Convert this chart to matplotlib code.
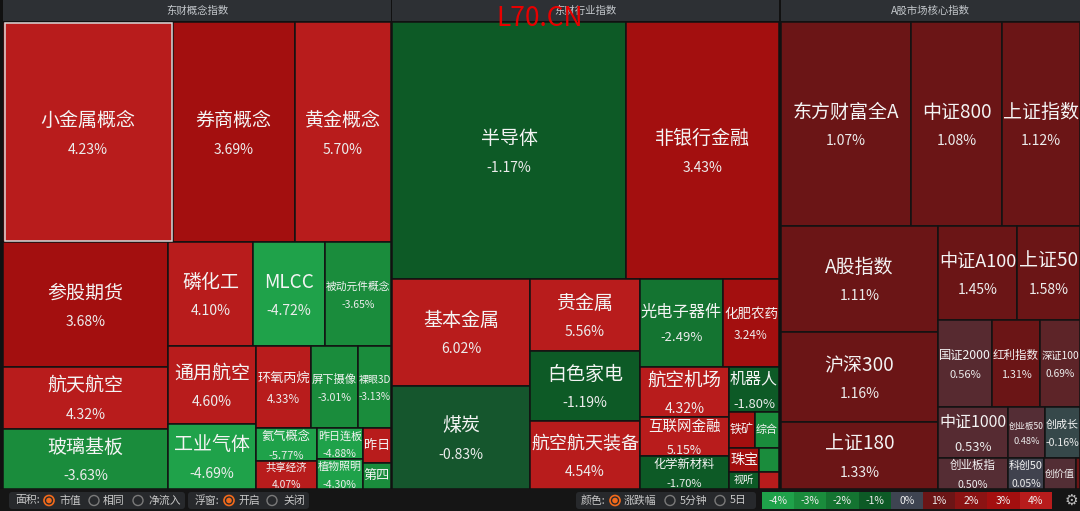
import matplotlib
matplotlib.use('Agg')
import matplotlib.pyplot as plt
from matplotlib.patches import Rectangle, Circle, FancyBboxPatch
import numpy as np

plt.rcParams['font.family'] = ['Noto Sans CJK SC', 'DejaVu Sans']

# ---- 东财概念指数 ----
gn_names = ['小金属概念', '券商概念', '黄金概念', '参股期货', '航天航空', '玻璃基板',
            '磷化工', 'MLCC', '被动元件概念', '通用航空', '工业气体', '环氧丙烷',
            '屏下摄像', '裸眼3D', '氦气概念', '共享经济', '昨日连板', '植物照明', '昨日', '第四']
gn_pct = [4.23, 3.69, 5.70, 3.68, 4.32, -3.63, 4.10, -4.72, -3.65, 4.60, -4.69, 4.33,
          -3.01, -3.13, -5.77, 4.07, -4.88, -4.30, 4.8, -3.6]
gn_size = [37180, 26620, 21120, 20336, 10168, 9840, 8755, 7313, 6798, 6864, 5720, 4428,
           3854, 2706, 1980, 1680, 1426, 1380, 980, 728]
gn_tree = ('v', [('h', [0, 1, 2]),
                 ('h', [('v', [3, 4, 5]),
                        ('v', [('h', [6, 7, 8]),
                               ('h', [('v', [9, 10]),
                                      ('v', [('h', [11, 12, 13]),
                                             ('h', [('v', [14, 15]), ('v', [16, 17]), ('v', [18, 19])])])])])])])

# ---- 东财行业指数 ----
hy_names = ['半导体', '非银行金融', '基本金属', '煤炭', '贵金属', '白色家电', '航空航天装备',
            '光电子器件', '化肥农药', '航空机场', '互联网金融', '化学新材料', '机器人',
            '铁矿', '综合', '珠宝', '视听', '', '']
hy_pct = [-1.17, 3.43, 6.02, -0.83, 5.56, -1.19, 4.54, -2.49, 3.24, 4.32, 5.15, -1.70, -1.80,
          3.5, -3.8, 3.8, -1.5, -3.2, 4.5]
hy_size = [59904, 39168, 14766, 14214, 7920, 7700, 7480, 7304, 4928, 4450, 3471, 2937, 2250,
           936, 864, 720, 510, 480, 340]
hy_tree = ('v', [('h', [0, 1]),
                 ('h', [('v', [2, 3]),
                        ('v', [4, 5, 6]),
                        ('v', [('h', [7, 8]),
                               ('h', [('v', [9, 10, 11]),
                                      ('v', [12, ('h', [13, 14]),
                                             ('h', [('v', [15, 16]), ('v', [17, 18])])])])])])])

# ---- A股市场核心指数 ----
zs_names = ['东方财富全A', '中证800', '上证指数', 'A股指数', '沪深300', '上证180', '中证A100',
            '上证50', '国证2000', '红利指数', '深证100', '中证1000', '创业板指', '创业板50',
            '创成长', '科创50', '创价值', '']
zs_pct = [1.07, 1.08, 1.12, 1.11, 1.16, 1.33, 1.45, 1.58, 0.56, 1.31, 0.69, 0.53, 0.50, 0.48,
          -0.16, 0.05, 0.47, 1.2]
zs_size = [26520, 18564, 15912, 16485, 14130, 10519, 7347, 5859, 4698, 4176, 3480, 3570, 2170,
           1887, 1785, 1116, 992, 124]
zs_tree = ('v', [('h', [0, 1, 2]),
                 ('h', [('v', [3, 4, 5]),
                        ('v', [('h', [6, 7]),
                               ('v', [('h', [8, 9, 10]),
                                      ('h', [('v', [11, 12]),
                                             ('v', [('h', [13, 14]), ('h', [15, 16, 17])])])])])])])

sec_titles = ['东财概念指数', '东财行业指数', 'A股市场核心指数']

legend_vals = [-4, -3, -2, -1, 0, 1, 2, 3, 4]
legend_cols = ['#1fa24a', '#1a8c3c', '#147431', '#0d5a26', '#3e4451',
               '#6b1516', '#8b1313', '#a30f0f', '#b81c1c']


def hex2rgb(c):
    return np.array([int(c[i:i + 2], 16) for i in (1, 3, 5)]) / 255.0


def pct_color(v):
    rgb = [hex2rgb(c) for c in legend_cols]
    if abs(v) < 1:  # 0~1 之间渐变
        j = 5 if v >= 0 else 3
        t = abs(v)
        return rgb[4] * (1 - t) + rgb[j] * t
    k = int(np.clip(np.trunc(v), -4, 4))
    return rgb[k + 4]


def tree_sum(node, sizes):
    if isinstance(node, int):
        return sizes[node]
    return sum(tree_sum(c, sizes) for c in node[1])


def layout(node, sizes, x, y, w, h, out):
    if isinstance(node, int):
        out[node] = (x, y, w, h)
        return
    d, kids = node
    tot = tree_sum(node, sizes)
    for k in kids:
        f = tree_sum(k, sizes) / tot
        if d == 'h':
            layout(k, sizes, x, y, w * f, h, out)
            x += w * f
        else:
            layout(k, sizes, x, y, w, h * f, out)
            y += h * f


def units(s):
    return sum(1.0 if ord(c) > 0x2e80 else 0.56 for c in s)


W, H = 1080, 511
fig = plt.figure(figsize=(W / 100, H / 100), dpi=100, facecolor='#111111')
ax = fig.add_axes([0, 0, 1, 1])
ax.set_xlim(0, W)
ax.set_ylim(H, 0)
ax.axis('off')

sections = [(3, 22, 388, 467), (392, 22, 387, 467), (781, 22, 299, 467)]
datasets = [(gn_names, gn_pct, gn_size, gn_tree),
            (hy_names, hy_pct, hy_size, hy_tree),
            (zs_names, zs_pct, zs_size, zs_tree)]

for s, (sx, sy, sw, sh) in enumerate(sections):
    ax.add_patch(Rectangle((sx, 0), sw, 21, facecolor='#2d3034', edgecolor='none'))
    ax.text(sx + sw / 2, 11, sec_titles[s], color='#c4c8cc', fontsize=7.5, ha='center', va='center')
    names, pct, size, tree = datasets[s]
    rects = {}
    layout(tree, size, sx, sy, sw, sh, rects)
    for i, (x, y, w, h) in rects.items():
        r = Rectangle((x, y), w, h, facecolor=pct_color(pct[i]), edgecolor='#121212', lw=1.1)
        ax.add_patch(r)
        name = names[i]
        if not name or w < 20 or h < 14:
            continue
        show_pct = w >= 33 and h >= 27
        npx = min(19, (w - 2) / units(name), h * (0.37 if show_pct else 0.6))
        cx, cy = x + w / 2, y + h / 2
        if show_pct:
            ppx = min(14, 0.5 * npx + 5)
            gap = npx + 0.7 * ppx
            t1 = ax.text(cx, cy - 0.4 * gap, name, color='#f4f4f4', fontsize=npx * 0.72,
                         ha='center', va='center')
            t2 = ax.text(cx, cy + 0.6 * gap, '%.2f%%' % pct[i], color='#ececec',
                         fontsize=ppx * 0.72, ha='center', va='center')
            t2.set_clip_path(r)
        else:
            t1 = ax.text(cx, cy, name, color='#f4f4f4', fontsize=npx * 0.72,
                         ha='center', va='center')
        t1.set_clip_path(r)

# 选中框
hx, hy, hw, hh = 4, 23, 168, 219
ax.add_patch(Rectangle((hx + 0.5, hy + 0.5), hw - 1, hh - 1, facecolor='none',
                       edgecolor='#d8d8d8', lw=1.1))

# 水印
ax.text(540, 19, 'L70.CN', color='#e80000', fontsize=19, ha='center', va='center')

# ---- 底部控制栏 ----
ax.add_patch(Rectangle((0, 489), W, 22, facecolor='#151515', edgecolor='none'))
panels = [(9, 176), (188, 121), (576, 180)]
for px, pw in panels:
    ax.add_patch(FancyBboxPatch((px, 492), pw, 17, boxstyle='round,pad=0,rounding_size=3',
                                facecolor='#27292c', edgecolor='none'))

labels = [(15, '面积:'), (59, '市值'), (103, '相同'), (148, '净流入'),
          (195, '浮窗:'), (238, '开启'), (283, '关闭'),
          (581, '颜色:'), (624, '涨跌幅'), (680, '5分钟'), (730, '5日')]
for lx, txt in labels:
    ax.text(lx, 500.5, txt, color='#c8c8c8', fontsize=7.8, ha='left', va='center')

radios = [(49, True), (94, False), (138, False), (229, True), (272, False),
          (615, True), (670, False), (720, False)]
for rx, on in radios:
    if on:
        ax.add_patch(Circle((rx, 500.5), 5, facecolor='none', edgecolor='#f26a1b', lw=1.2))
        ax.add_patch(Circle((rx, 500.5), 2.8, facecolor='#f26a1b', edgecolor='none'))
    else:
        ax.add_patch(Circle((rx, 500.5), 5, facecolor='none', edgecolor='#7a7a7a', lw=1.0))

lw_box = 32.2
for k, v in enumerate(legend_vals):
    lx = 762 + k * lw_box
    ax.add_patch(Rectangle((lx, 492), lw_box, 17, facecolor=legend_cols[k], edgecolor='none'))
    ax.text(lx + lw_box / 2, 500.5, '%d%%' % v, color='#eeeeee', fontsize=7.5,
            ha='center', va='center')

ax.text(1071, 500.5, '\u2699', color='#bbbbbb', fontsize=11, ha='center', va='center',
        family='DejaVu Sans')

fig.savefig('out.png', dpi=100, facecolor=fig.get_facecolor())
